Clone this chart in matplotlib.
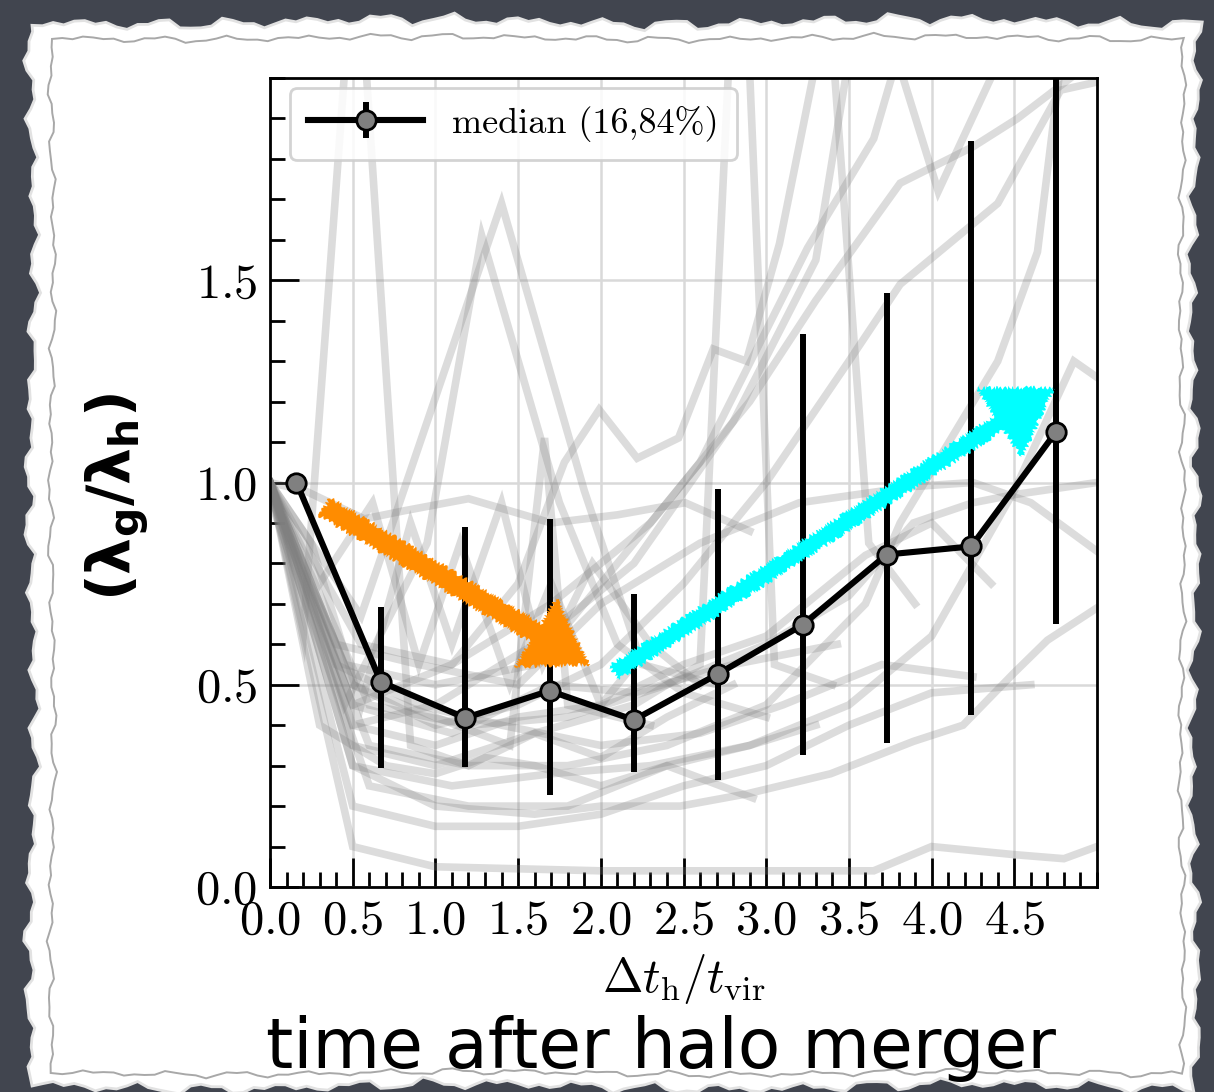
import numpy as np
import matplotlib
matplotlib.use("Agg")
import matplotlib.pyplot as plt
from matplotlib.patches import Polygon
from matplotlib.ticker import MultipleLocator

plt.rcParams["font.family"] = "serif"
plt.rcParams["font.serif"] = ["cmr10"]
plt.rcParams["mathtext.fontset"] = "cm"
plt.rcParams["axes.formatter.use_mathtext"] = True

# median spin ratio in bins of time since the halo merger
t_bins = [0.16, 0.67, 1.18, 1.69, 2.20, 2.71, 3.22, 3.73, 4.24, 4.75]
ratio_med = [1.00, 0.507, 0.418, 0.485, 0.413, 0.527, 0.648, 0.822, 0.842, 1.124]
ratio_p16 = [1.00, 0.295, 0.297, 0.228, 0.285, 0.265, 0.327, 0.356, 0.426, 0.651]
ratio_p84 = [1.00, 0.693, 0.891, 0.911, 0.725, 0.983, 1.366, 1.468, 1.844, 2.300]

# individual merger tracks
track_t = [
    [0, 0.5, 1.0, 2.0, 3.0, 3.65, 4.0, 4.5, 4.8, 5.0],
    [0, 0.2, 0.52, 0.85, 1.2, 1.6, 2.0, 2.4, 2.8],
    [0, 0.55, 1.40, 1.90, 2.25, 2.7],
    [0, 0.45, 0.95, 1.28, 1.75, 2.1, 2.5, 3.0],
    [0, 0.5, 1.1, 1.5, 1.78, 1.99, 2.22, 2.47, 2.68, 2.88, 3.08, 3.38, 3.62, 3.9],
    [0, 0.5, 1.0, 1.45, 1.66, 1.8, 2.3],
    [0, 0.5, 1.0, 1.5, 2.0, 2.5, 3.0, 3.5, 3.81, 4.4, 4.78, 5.0],
    [0, 0.45, 1.0, 1.6, 2.1, 2.6, 3.25, 3.65, 3.9],
    [0, 0.5, 1.0, 1.6, 2.2, 2.8, 3.3, 3.6, 4.04, 4.7],
    [0, 0.55, 1.1, 1.7, 2.3, 2.9, 3.3, 3.81, 4.25, 4.52, 5.0],
    [0, 0.6, 1.2, 1.8, 2.4, 3.0, 3.6, 3.81, 4.4, 4.64, 4.8],
    [0, 0.5, 1.1, 1.7, 2.3, 2.9, 3.5, 4.0, 4.5, 4.86, 5.0],
    [0, 0.6, 1.2, 1.8, 2.4, 3.0, 3.5, 3.89, 4.25, 4.5, 5.0],
    [0, 0.4, 0.9, 1.5, 2.0, 2.6, 3.2, 3.89, 4.25, 4.6, 5.0],
    [0, 0.5, 1.0, 1.6, 2.0, 2.48, 2.88, 3.39, 3.89, 4.19, 4.5, 4.7, 5.0],
    [0, 0.21, 0.57, 0.81, 1.20, 1.70, 2.1, 2.51, 2.9],
    [0, 0.5, 1.1, 1.7, 2.2, 2.8, 3.43],
    [0, 0.6, 1.2, 1.8, 2.4, 2.92],
    [0, 0.5, 1.0, 1.5, 2.0, 2.5, 3.0, 3.6, 4.0, 4.36],
    [0, 0.4, 0.9, 1.4, 2.0, 2.6, 3.1, 3.7, 4.25],
    [0, 0.5, 1.0, 1.5, 2.0, 2.5, 3.0, 3.5, 4.0, 4.6],
    [0, 0.3, 0.62, 0.9, 1.15, 1.45, 1.7, 2.0, 2.3, 2.6],
    [0, 0.25, 0.55, 0.85, 1.1, 1.4, 1.65, 1.95, 2.3],
    [0, 0.3, 0.7, 1.0, 1.3, 1.6, 2.0, 2.4, 2.9, 3.3],
    [0, 0.5, 1.0, 1.6, 2.2, 2.6, 2.84, 3.05, 3.4],
]
track_ratio = [
    [1.0, 0.10, 0.05, 0.04, 0.04, 0.04, 0.10, 0.08, 0.07, 0.10],
    [1.0, 0.62, 2.40, 0.35, 0.30, 0.38, 0.32, 0.42, 0.50],
    [1.0, 0.67, 1.69, 0.98, 0.55, 0.50],
    [1.0, 0.45, 0.85, 1.61, 0.95, 0.60, 0.48, 0.42],
    [1.0, 0.45, 0.55, 0.75, 1.05, 1.18, 1.06, 1.11, 1.33, 1.30, 1.59, 2.2, 0.85, 0.70],
    [0.98, 0.50, 0.42, 0.35, 1.11, 0.45, 0.40],
    [1.0, 0.50, 0.40, 0.45, 0.55, 0.75, 1.00, 1.30, 1.49, 1.69, 1.97, 1.99],
    [1.0, 0.55, 0.50, 0.55, 0.80, 1.05, 1.58, 1.85, 2.2],
    [1.0, 0.40, 0.45, 0.60, 0.80, 1.15, 1.55, 2.30, 1.72, 2.30],
    [1.0, 0.60, 0.55, 0.70, 0.90, 1.20, 1.45, 1.74, 1.83, 1.90, 2.05],
    [0.97, 0.35, 0.30, 0.30, 0.35, 0.45, 0.70, 0.90, 1.30, 1.57, 2.10],
    [1.0, 0.30, 0.25, 0.28, 0.30, 0.35, 0.45, 0.62, 0.98, 1.30, 1.26],
    [1.0, 0.45, 0.40, 0.42, 0.50, 0.60, 0.72, 0.90, 0.95, 0.97, 1.00],
    [1.0, 0.60, 0.55, 0.50, 0.70, 0.85, 0.95, 0.99, 1.00, 0.95, 0.83],
    [1.0, 0.30, 0.20, 0.18, 0.20, 0.20, 0.23, 0.28, 0.36, 0.40, 0.53, 0.61, 0.69],
    [1.0, 0.98, 0.91, 0.93, 0.96, 0.90, 0.92, 0.95, 0.88],
    [1.0, 0.45, 0.38, 0.50, 0.48, 0.55, 0.60],
    [0.96, 0.25, 0.20, 0.20, 0.30, 0.22],
    [1.0, 0.40, 0.35, 0.42, 0.45, 0.55, 0.62, 0.82, 0.90, 0.75],
    [1.0, 0.55, 0.45, 0.40, 0.35, 0.38, 0.45, 0.55, 0.52],
    [1.0, 0.20, 0.15, 0.15, 0.18, 0.25, 0.30, 0.40, 0.48, 0.50],
    [1.0, 0.75, 0.95, 0.55, 0.85, 0.50, 0.75, 0.45, 0.60, 0.50],
    [1.0, 0.85, 0.45, 0.90, 0.60, 0.95, 0.55, 0.80, 0.60],
    [1.0, 0.40, 0.30, 0.28, 0.32, 0.30, 0.25, 0.30, 0.35, 0.40],
    [1.0, 0.35, 0.30, 0.38, 0.45, 0.55, 2.60, 0.55, 0.50],
]

W, H = 1214, 1092
fig = plt.figure(figsize=(W / 100, H / 100), dpi=100)
fig.patch.set_facecolor("#41454f")


def px(x, y):
    return x / W, 1 - y / H


def ragged_rect(x0, y0, x1, y1, amp, phase):
    # torn paper outline, deterministic wobble
    pts = []
    n = 110
    for side in range(4):
        k = np.arange(n)
        s = k / n
        w = amp * (0.5 * np.sin(0.9 * k + phase + side) + 0.3 * np.sin(2.3 * k + 2 * phase)
                   + 0.2 * np.sin(5.1 * k + 3 * phase + side) + 0.4 * np.sin(0.13 * k + side))
        if side == 0:
            xs, ys = x0 + (x1 - x0) * s, y0 + w
        elif side == 1:
            xs, ys = x1 + w, y0 + (y1 - y0) * s
        elif side == 2:
            xs, ys = x1 - (x1 - x0) * s, y1 + w
        else:
            xs, ys = x0 + w, y1 - (y1 - y0) * s
        pts += [px(a, b) for a, b in zip(xs, ys)]
    return pts


fig.add_artist(Polygon(ragged_rect(32, 22, 1194, 1086, 7, 0.3), closed=True, zorder=-10,
                       transform=fig.transFigure, fc="white", ec="#e2e2e2", lw=2))
fig.add_artist(Polygon(ragged_rect(52, 38, 1182, 1073, 4, 1.7), closed=True, zorder=-9,
                       transform=fig.transFigure, fc="none", ec="#a8a8a8", lw=1.4))

ax = fig.add_axes([270 / W, 1 - 887 / H, 827 / W, 809 / H])
ax.set_facecolor("white")

for tx, ty in zip(track_t, track_ratio):
    ax.plot(tx, ty, color="gray", alpha=0.27, lw=5.5, solid_joinstyle="miter", zorder=2)

med = np.array(ratio_med)
yerr = [med - np.array(ratio_p16), np.array(ratio_p84) - med]
ax.errorbar(t_bins, ratio_med, yerr=yerr, fmt="-o", color="k", lw=4.4, elinewidth=4.3,
            ms=14, mfc="gray", mec="k", mew=2, capsize=0, zorder=5,
            label="median (16,84%)")

# hand-drawn arrows
arrows = [((0.33, 0.94), (1.93, 0.55), "darkorange", 0.58, 0.45, 0.15),
          ((2.08, 0.53), (4.74, 1.235), "cyan", 0.60, 0.47, 0.12)]
for start, tip, col, hw, hl, tw in arrows:
    ann = ax.annotate("", xy=tip, xytext=start, zorder=6,
                      arrowprops=dict(arrowstyle=f"simple,head_length={hl},head_width={hw},tail_width={tw}",
                                      mutation_scale=100, color=col, shrinkA=0, shrinkB=0, lw=0))
    ann.arrow_patch.set_sketch_params(2, 5, 4)

ax.set_xlim(0, 5)
ax.set_ylim(0, 2)
ax.set_xticks(np.arange(0, 4.6, 0.5))
ax.set_yticks([0, 0.5, 1.0, 1.5])
ax.xaxis.set_minor_locator(MultipleLocator(0.1))
ax.yaxis.set_minor_locator(MultipleLocator(0.1))
ax.tick_params(which="both", direction="in", top=False, right=False, labelsize=35)
ax.tick_params(which="major", length=21, width=2)
ax.tick_params(which="minor", length=10.5, width=2)
ax.tick_params(axis="x", pad=9)
ax.tick_params(axis="y", pad=9)
ax.grid(True, which="major", color="#d9d9d9", lw=1.8)
ax.set_axisbelow(True)
for sp in ax.spines.values():
    sp.set_linewidth(2)

ax.set_xlabel(r"$\Delta t_{\rm h}/t_{\rm vir}$", fontsize=35, labelpad=6)
leg = ax.legend(loc="upper left", bbox_to_anchor=(0.024, 0.988), borderaxespad=0, fontsize=26,
                handlelength=3.2, handletextpad=0.8, borderpad=0.5, framealpha=0.85,
                edgecolor="#cccccc", fancybox=True)
leg.get_frame().set_linewidth(2)

fig.text(118 / W, 1 - 497 / H, r"$\mathbf{(\lambda_g/\lambda_h)}$", rotation=90,
         ha="center", va="center", fontsize=42, math_fontfamily="dejavusans")
fig.text(661 / W, 1 - 1068 / H, "time after halo merger", ha="center", va="baseline",
         fontsize=50, family="DejaVu Sans")

fig.savefig("out.png", dpi=100, facecolor=fig.get_facecolor())
